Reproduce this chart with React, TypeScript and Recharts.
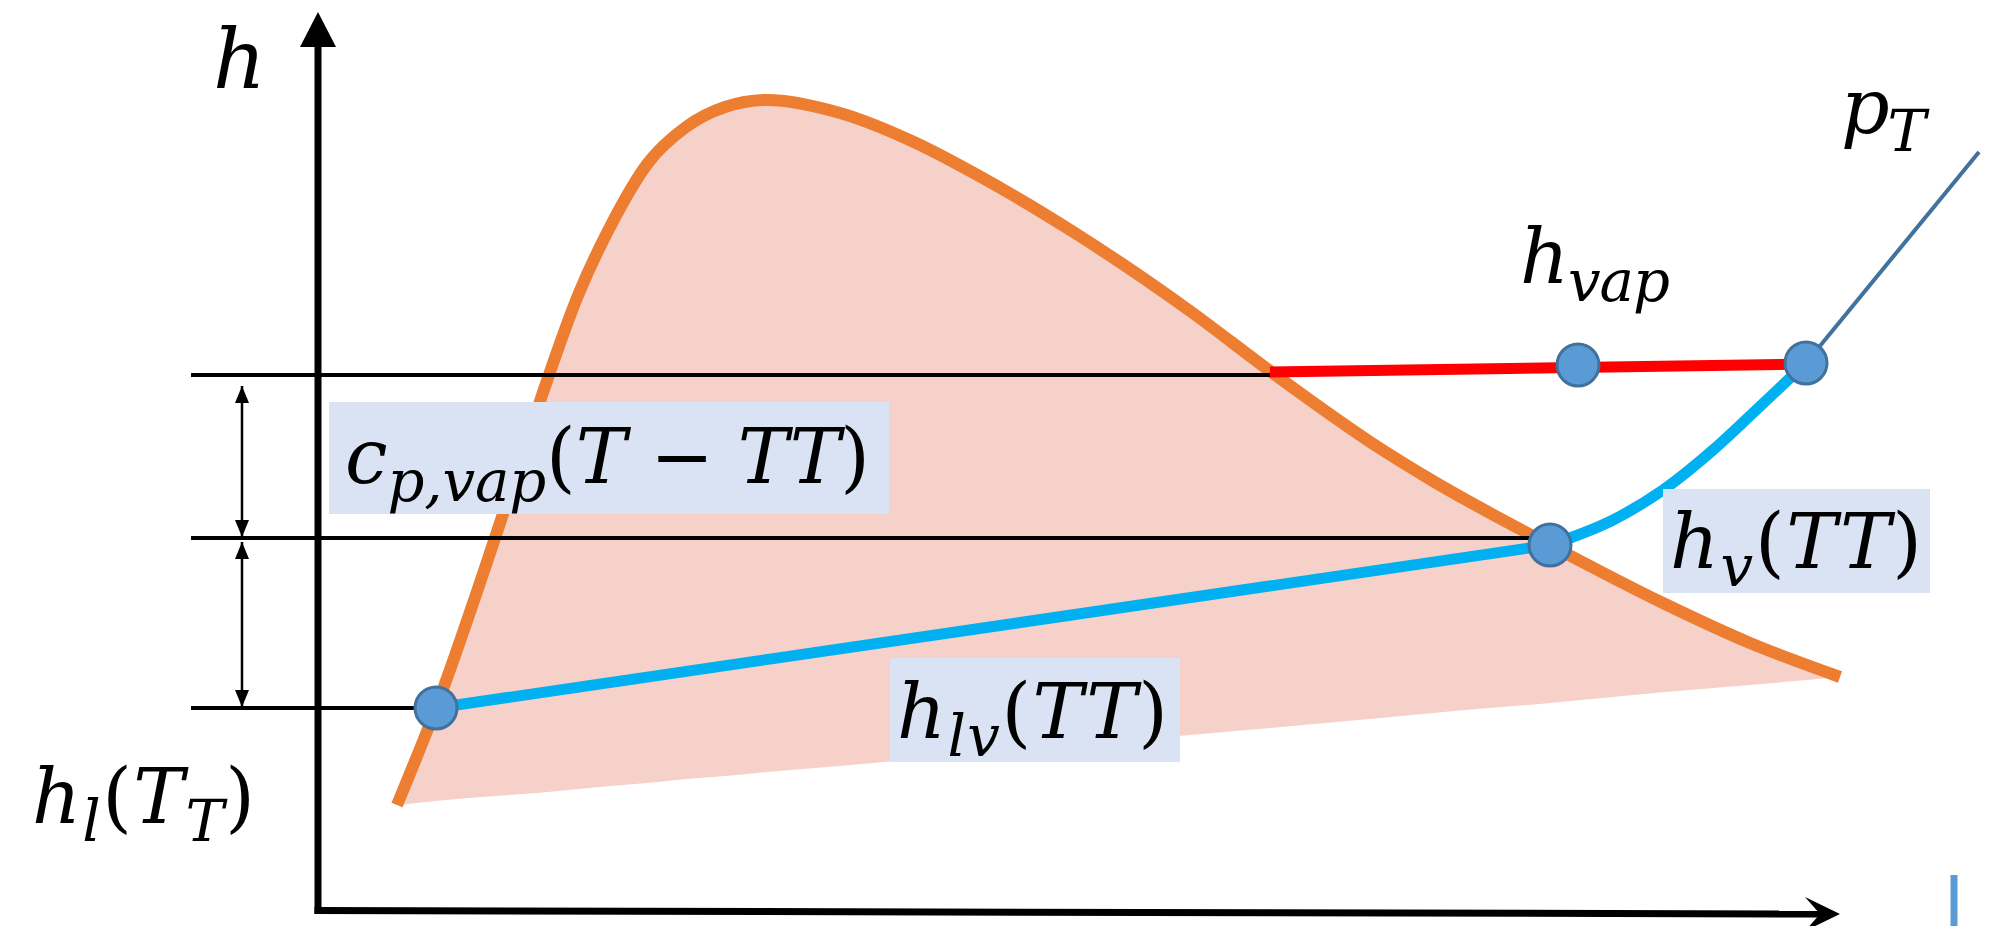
import { ComposedChart, XAxis, YAxis, Line, Area, ReferenceArea, ReferenceDot, ReferenceLine } from "recharts"

// everything is in diagram units: s to the right, h upwards (axes corner = 0,0)

// saturation dome (orange) and the straight chord closing its fill
const domeS = [7.9, 11.8, 17.7, 21.9, 26.1, 29.2, 33.0, 36.8, 40.7, 44.9, 52.2, 59.8, 66.3, 75.7, 87.2, 95.2, 106.3, 111.5, 123.2, 134.7, 143.2, 152.2]
const domeH = [10.5, 20.2, 37.2, 50.0, 61.7, 68.3, 74.7, 78.3, 80.3, 81.0, 79.7, 76.7, 73.3, 67.7, 59.9, 53.9, 46.1, 42.9, 36.5, 30.6, 26.7, 23.3]
const domeBase = [10.5, 10.9, 11.4, 11.7, 12.1, 12.4, 12.7, 13.1, 13.4, 13.8, 14.4, 15.1, 15.7, 16.5, 17.5, 18.2, 19.2, 19.7, 20.7, 21.8, 22.5, 23.3]

// blue tie line inside the dome, then the vapour isobar
const tieS = [11.8, 123.2]
const tieH = [20.2, 36.5]
const isoS = [123.2, 129.5, 134.5, 139.5, 143.5, 148.8]
const isoH = [36.5, 39.0, 42.0, 46.0, 49.7, 54.7]
const isoTailS = [148.8, 166.1]
const isoTailH = [54.7, 75.8]

// red h_vap line
const vapS = [95.2, 148.8]
const vapH = [53.8, 54.6]

// black reference levels (start, end, height)
const levelStart = -12.7
const levelEnd = [95.2, 122, 11.8]
const levelH = [53.5, 37.2, 20.2]

// dimension arrows
const dimS = -7.6
const dimTop = [52.4, 36.8]
const dimBottom = [37.3, 20.3]

// state points
const pointS = [11.8, 123.2, 126.0, 148.8]
const pointH = [20.2, 36.5, 54.5, 54.7]

// label boxes
const boxS1 = [1.1, 134.5, 57.2]
const boxS2 = [57.1, 161.2, 86.2]
const boxH1 = [39.6, 31.7, 14.8]
const boxH2 = [50.8, 42.1, 25.2]

type Part = { t: string; it?: boolean; sub?: boolean }

const labelS = [-10.5, 120.2, 152.3, 2.7, 135.2, 57.9, -28.6]
const labelH = [82.2, 62.7, 77.7, 42.7, 34.2, 17.2, 8.7]
const labelWidth = [0, 150, 85, 525, 252, 271, 223]
const labelParts: Part[][] = [
  [{ t: "h", it: true }],
  [{ t: "h", it: true }, { t: "vap", it: true, sub: true }],
  [{ t: "p", it: true }, { t: "T", it: true, sub: true }],
  [{ t: "c", it: true }, { t: "p,vap", it: true, sub: true }, { t: "(" }, { t: "T", it: true }, { t: " − " }, { t: "TT", it: true }, { t: ")" }],
  [{ t: "h", it: true }, { t: "v", it: true, sub: true }, { t: "(" }, { t: "TT", it: true }, { t: ")" }],
  [{ t: "h", it: true }, { t: "lv", it: true, sub: true }, { t: "(" }, { t: "TT", it: true }, { t: ")" }],
  [{ t: "h", it: true }, { t: "l", it: true, sub: true }, { t: "(" }, { t: "T", it: true }, { t: "T", it: true, sub: true }, { t: ")" }],
]
const labelSize = [82, 76, 76, 76, 76, 76, 76]

const MATH_FONT = '"DejaVu Serif", "Liberation Serif", "Noto Serif", serif'

const pts = (xs: number[], ys: number[]) => xs.map((s, i) => ({ s, h: ys[i] }))

const domeData = domeS.map((s, i) => ({ s, h: domeH[i], band: [domeBase[i], domeH[i]] }))

function MathText({ x, y, parts, size, width }: { x: number; y: number; parts: Part[]; size: number; width: number }) {
  let inSub = false
  const shift = 18
  return (
    <text
      x={x}
      y={y}
      style={{ fontFamily: MATH_FONT }}
      fontSize={size}
      fill="#000"
      textLength={width || undefined}
      lengthAdjust="spacing"
    >
      {parts.map((p, i) => {
        let dy = 0
        if (p.sub && !inSub) dy = shift
        if (!p.sub && inSub) dy = -shift
        inSub = !!p.sub
        return (
          <tspan
            key={i}
            dy={dy || undefined}
            style={{ fontFamily: MATH_FONT, fontStyle: p.it ? "italic" : "normal" }}
            fontSize={p.sub ? size * 0.76 : size}
          >
            {p.t}
          </tspan>
        )
      })}
    </text>
  )
}

const yAxisHead = (props: any) => {
  const { cx, cy, index } = props
  if (index !== 1) return <g key={`ya${index}`} />
  return <polygon key="ya" points={`${cx},${cy - 35} ${cx - 18},${cy} ${cx + 18},${cy}`} fill="#000" />
}

const xAxisHead = (props: any) => {
  const { cx, cy, index } = props
  if (index !== 1) return <g key={`xa${index}`} />
  return <polygon key="xa" points={`${cx + 20},${cy} ${cx - 15},${cy - 17} ${cx},${cy} ${cx - 15},${cy + 17}`} fill="#000" />
}

const dimHeads = (props: any) => {
  const { cx, cy, index } = props
  const d = index === 0 ? 17 : -17
  return <polygon key={`dh${index}`} points={`${cx},${cy} ${cx - 7},${cy + d} ${cx + 7},${cy + d}`} fill="#000" />
}

export default function App() {
  return (
    <div style={{ position: "absolute", left: 0, top: 0, width: 1993, height: 926, background: "#fff" }}>
      <ComposedChart width={1993} height={926} margin={{ top: 0, right: 0, bottom: 0, left: 0 }}>
        <XAxis type="number" dataKey="s" domain={[-31.8, 167.5]} hide allowDataOverflow />
        <YAxis type="number" domain={[-1.6, 91]} hide allowDataOverflow />

        <Area data={domeData} dataKey="band" type="monotone" stroke="none" fill="#f6d1c9" fillOpacity={1} isAnimationActive={false} zIndex={100} />
        <Line data={domeData} dataKey="h" type="monotone" stroke="#ed7d31" strokeWidth={12} dot={false} activeDot={false} isAnimationActive={false} zIndex={200} />

        {levelH.map((h, i) => (
          <ReferenceLine
            key={`lv${i}`}
            segment={[{ x: levelStart, y: h }, { x: levelEnd[i], y: h }]}
            stroke="#000"
            strokeWidth={4}
            ifOverflow="visible"
            zIndex={300}
          />
        ))}
        {dimTop.map((t, i) => (
          <Line key={`dm${i}`} data={pts([dimS, dimS], [t, dimBottom[i]])} dataKey="h" stroke="#000" strokeWidth={2.5} dot={dimHeads} activeDot={false} isAnimationActive={false} zIndex={300} />
        ))}
        <Line data={pts([0, 0], [-0.4, 86.3])} dataKey="h" stroke="#000" strokeWidth={7} dot={yAxisHead} activeDot={false} isAnimationActive={false} zIndex={300} />
        <Line data={pts([-0.35, 150.2], [-0.05, -0.4])} dataKey="h" stroke="#000" strokeWidth={7} dot={xAxisHead} activeDot={false} isAnimationActive={false} zIndex={300} />

        <Line data={pts(vapS, vapH)} dataKey="h" stroke="#ff0000" strokeWidth={11} dot={false} activeDot={false} isAnimationActive={false} zIndex={400} />
        <Line data={pts(tieS, tieH)} dataKey="h" stroke="#00b0f0" strokeWidth={11} dot={false} activeDot={false} isAnimationActive={false} zIndex={400} />
        <Line data={pts(isoS, isoH)} dataKey="h" type="monotone" stroke="#00b0f0" strokeWidth={11} dot={false} activeDot={false} isAnimationActive={false} zIndex={400} />
        <Line data={pts(isoTailS, isoTailH)} dataKey="h" stroke="#41719c" strokeWidth={4} dot={false} activeDot={false} isAnimationActive={false} zIndex={400} />
        <Line data={pts([163.6, 163.6], [3.5, -1.6])} dataKey="h" stroke="#5b9bd5" strokeWidth={7} dot={false} activeDot={false} isAnimationActive={false} zIndex={400} />

        {boxS1.map((s1, i) => (
          <ReferenceArea key={`bx${i}`} x1={s1} x2={boxS2[i]} y1={boxH1[i]} y2={boxH2[i]} fill="#dae3f3" fillOpacity={1} stroke="none" ifOverflow="visible" zIndex={500} />
        ))}

        {pointS.map((s, i) => (
          <ReferenceDot key={`pt${i}`} x={s} y={pointH[i]} r={21} fill="#5b9bd5" stroke="#41719c" strokeWidth={3} ifOverflow="visible" zIndex={600} />
        ))}

        {labelS.map((s, i) => (
          <ReferenceDot
            key={`lb${i}`}
            x={s}
            y={labelH[i]}
            r={0}
            ifOverflow="visible"
            zIndex={700}
            shape={(p: any) => <MathText x={p.cx} y={p.cy} parts={labelParts[i]} size={labelSize[i]} width={labelWidth[i]} />}
          />
        ))}
      </ComposedChart>
    </div>
  )
}
